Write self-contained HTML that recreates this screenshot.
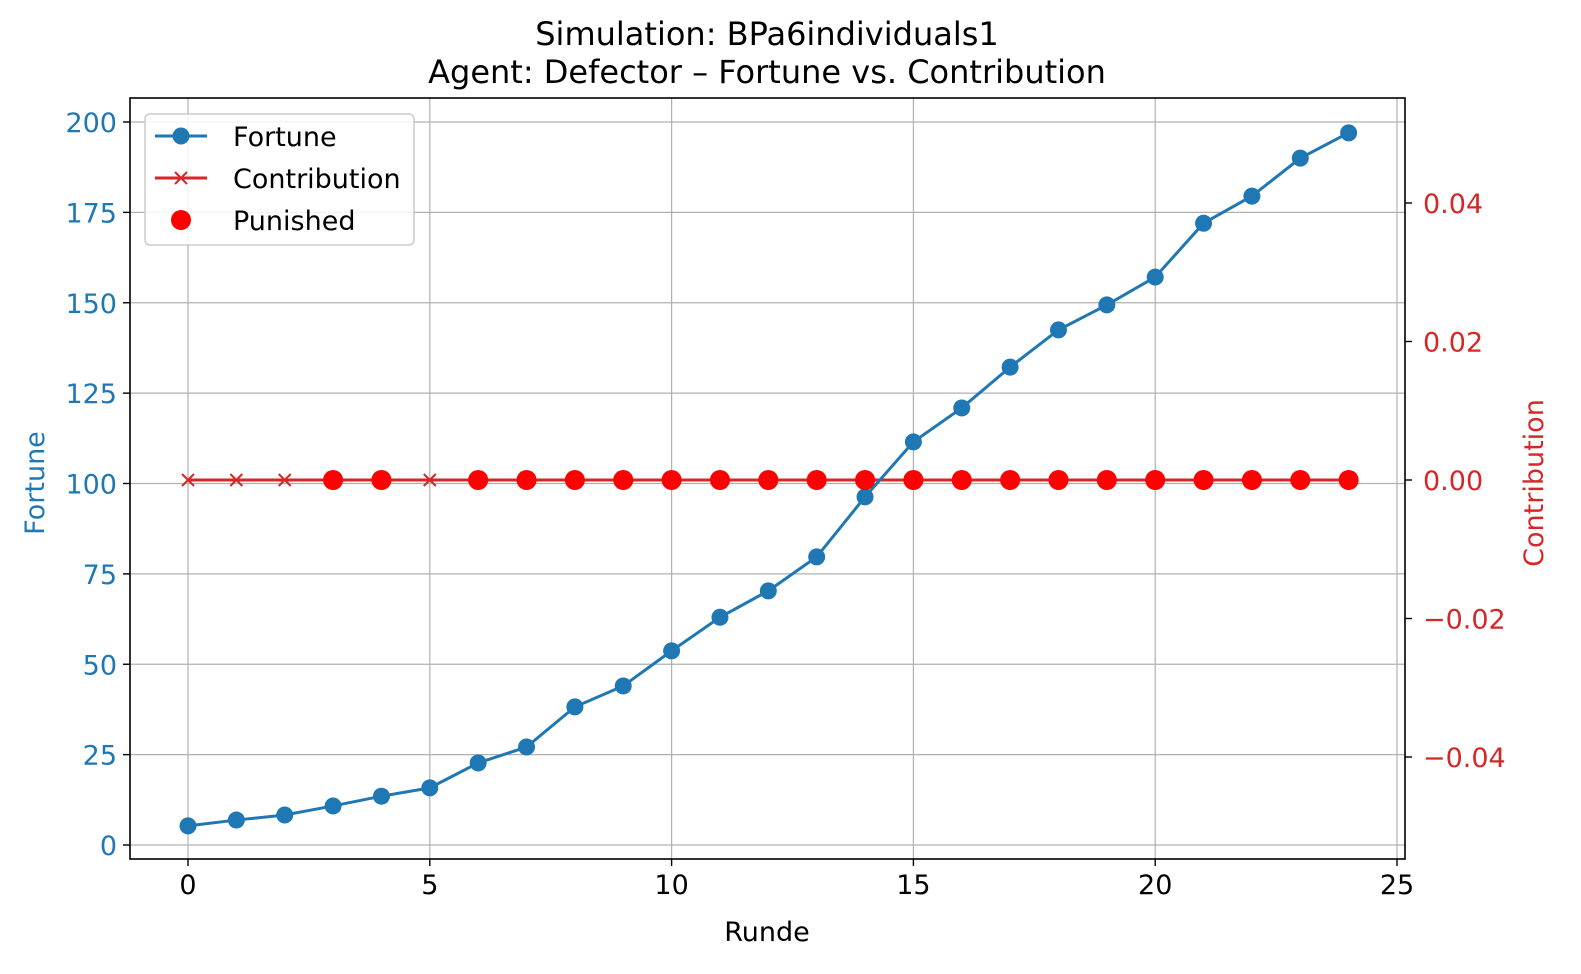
<!DOCTYPE html>
<html><head><meta charset="utf-8"><style>
html,body{margin:0;padding:0;background:#fff;}
svg{display:block;font-family:"DejaVu Sans","Liberation Sans",sans-serif;}
</style></head><body>
<svg id="chart" width="1581" height="974" viewBox="0 0 1581 974"></svg>
<script>
const rounds=[0,1,2,3,4,5,6,7,8,9,10,11,12,13,14,15,16,17,18,19,20,21,22,23,24];
const fortune=[5.3,6.9,8.3,10.8,13.5,15.8,22.7,27.1,38.2,44,53.7,63,70.3,79.7,96.3,111.5,120.9,132.2,142.5,149.4,157.1,172,179.5,190,197];
const contribution=[0,0,0,0,0,0,0,0,0,0,0,0,0,0,0,0,0,0,0,0,0,0,0,0,0];
const punishedRounds=[3,4,6,7,8,9,10,11,12,13,14,15,16,17,18,19,20,21,22,23,24];
const xTicks=[0,5,10,15,20,25];
const yTicks=[0,25,50,75,100,125,150,175,200];
const y2Ticks=[-0.04,-0.02,0.00,0.02,0.04];
const y2Labels=["\u22120.04","\u22120.02","0.00","0.02","0.04"];

const L=130,R=1405,T=98,B=859;
const X=v=>188+v*48.36;
const Y=v=>845-v*3.615;
const Y2=v=>480-v*6925;
const NS="http://www.w3.org/2000/svg";
const svg=document.getElementById('chart');
function el(tag,attrs,parent){const e=document.createElementNS(NS,tag);for(const k in attrs)e.setAttribute(k,attrs[k]);(parent||svg).appendChild(e);return e;}
const blue="#1f77b4",red="#d62728";

const grid=el('g',{});


xTicks.forEach(t=>{if(X(t)<R)el('line',{x1:X(t),x2:X(t),y1:T,y2:B,stroke:"#b0b0b0","stroke-width":1.2},grid);});
yTicks.forEach(t=>el('line',{x1:L,x2:R,y1:Y(t),y2:Y(t),stroke:"#b0b0b0","stroke-width":1.2},grid));

const cl=el('polyline',{points:rounds.map((r,i)=>X(r)+","+Y2(contribution[i])).join(" "),fill:"none",stroke:red,"stroke-width":3});


rounds.forEach((r,i)=>{const cx=X(r),cy=Y2(contribution[i]);
 const g=el('path',{d:`M${cx-6} ${cy-6}L${cx+6} ${cy+6}M${cx-6} ${cy+6}L${cx+6} ${cy-6}`,stroke:red,"stroke-width":2});
 
 });

const fl=el('polyline',{points:rounds.map((r,i)=>X(r)+","+Y(fortune[i])).join(" "),fill:"none",stroke:blue,"stroke-width":3});


rounds.forEach((r,i)=>{const c=el('circle',{cx:X(r),cy:Y(fortune[i]),r:8.5,fill:blue});
 
 });

punishedRounds.forEach(r=>{const c=el('circle',{cx:X(r),cy:Y2(contribution[rounds.indexOf(r)]),r:10,fill:"#ff0000"});
 
 });

const fr=el('rect',{x:L,y:T,width:R-L,height:B-T,fill:"none",stroke:"#000","stroke-width":1.6});



xTicks.forEach(t=>{el('line',{x1:X(t),x2:X(t),y1:B,y2:B+7,stroke:"#000","stroke-width":1.4});
 const tx=el('text',{x:X(t),y:B+35,"text-anchor":"middle","font-size":27,fill:"#000"});tx.textContent=t;
 
 });
yTicks.forEach(t=>{el('line',{x1:L-7,x2:L,y1:Y(t),y2:Y(t),stroke:"#000","stroke-width":1.4});
 const tx=el('text',{x:L-13,y:Y(t)+10,"text-anchor":"end","font-size":27,fill:blue});tx.textContent=t;
 
 });
y2Ticks.forEach((t,i)=>{el('line',{x1:R,x2:R+7,y1:Y2(t),y2:Y2(t),stroke:"#000","stroke-width":1.4});
 const tx=el('text',{x:R+18,y:Y2(t)+10,"font-size":27,fill:red});tx.textContent=y2Labels[i];
 
 });
</script>
<svg style="position:absolute;left:0;top:0" width="1581" height="974" font-family="DejaVu Sans, Liberation Sans, sans-serif">
<text x="767" y="45" text-anchor="middle" font-size="32">Simulation: BPa6individuals1</text>
<text x="767" y="83" text-anchor="middle" font-size="32">Agent: Defector – Fortune vs. Contribution</text>
<text x="767" y="941" text-anchor="middle" font-size="27">Runde</text>
<text transform="translate(44,483) rotate(-90)" text-anchor="middle" font-size="27" fill="#1f77b4">Fortune</text>
<text transform="translate(1543,483) rotate(-90)" text-anchor="middle" font-size="27" fill="#d62728">Contribution</text>
<g>
<rect x="145" y="114" width="269" height="131" rx="5" fill="#fff" fill-opacity="0.85" stroke="#ccc" stroke-width="1.5"/>
<g><line x1="155" x2="207" y1="136" y2="136" stroke="#1f77b4" stroke-width="3"/><circle cx="181" cy="136" r="8.5" fill="#1f77b4"/><text x="233" y="146" font-size="27">Fortune</text></g>
<g><line x1="155" x2="207" y1="178" y2="178" stroke="#d62728" stroke-width="3"/><path d="M175 172L187 184M175 184L187 172" stroke="#d62728" stroke-width="2"/><text x="233" y="188" font-size="27">Contribution</text></g>
<g><circle cx="181" cy="220" r="10" fill="#ff0000"/><text x="233" y="230" font-size="27">Punished</text></g>
</g>
</svg>
</body></html>
